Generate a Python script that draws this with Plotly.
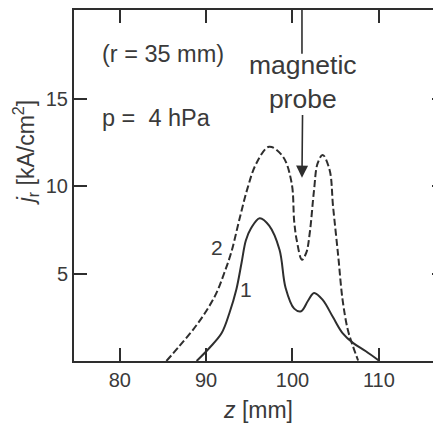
import plotly.graph_objects as go

# Curve 1 (solid)
z1 = [88.9, 90.4, 91.8, 92.7, 93.5, 94.1, 94.6, 95.2, 96.2, 97.3, 98.5, 99.2,
      100.2, 101.0, 101.8, 102.5, 103.5, 104.7, 105.8, 107.0, 108.5, 110.0]
j1 = [0.0, 0.76, 1.6, 2.75, 4.09, 5.61, 6.9, 7.6, 8.18, 7.75, 6.37, 4.2,
      3.0, 2.85, 3.45, 3.9, 3.5, 2.5, 1.6, 1.04, 0.56, 0.03]

# Curve 2 (dashed)
z2 = [85.4, 86.9, 88.5, 90.0, 91.2, 92.1, 92.9, 93.9, 94.8, 95.8, 97.3, 98.9, 99.9,
      100.2, 100.5, 101.1, 101.6, 102.0, 102.5, 102.9, 103.5, 104.3, 104.7, 105.3,
      105.8, 106.4, 107.0, 107.6]
j2 = [0.0, 0.85, 1.8, 2.85, 3.9, 5.04, 6.2, 8.2, 9.9, 11.3, 12.27, 11.7, 10.2,
      8.0, 6.9, 5.8, 6.2, 7.33, 9.8, 11.3, 11.8, 10.94, 8.85, 6.0,
      3.51, 1.8, 0.85, 0.03]

x_ticks = [80, 90, 100, 110]
y_ticks = [5, 10, 15]

INK = "#2e2e2e"
TXT = "#3a3a3a"
FONT = "Liberation Sans, Arial, sans-serif"

fig = go.Figure()
fig.add_trace(go.Scatter(x=z2, y=j2, mode="lines",
                         line=dict(color=INK, width=2, dash="7px,3px", shape="spline", smoothing=1.0),
                         showlegend=False, hoverinfo="skip"))
fig.add_trace(go.Scatter(x=z1, y=j1, mode="lines",
                         line=dict(color=INK, width=2, shape="spline", smoothing=1.0),
                         showlegend=False, hoverinfo="skip"))
# invisible trace to activate the right-hand tick axis
fig.add_trace(go.Scatter(x=z1, y=j1, yaxis="y2", mode="lines", line=dict(width=0), opacity=0,
                         showlegend=False, hoverinfo="skip"))

# page has an 8px body margin, so the figure is sized/offset to compensate
fig.update_layout(
    width=433, height=417,
    margin=dict(l=66, r=0, t=2, b=64),
    paper_bgcolor="white", plot_bgcolor="white",
    font=dict(family=FONT, color=TXT, size=19),
    xaxis=dict(range=[74.7, 117.2], tickvals=x_ticks, ticks="inside", ticklen=13, tickwidth=2,
               tickcolor=INK, showline=True, linecolor=INK, linewidth=2, mirror="ticks",
               showgrid=False, zeroline=False, tickfont=dict(size=20, color=TXT)),
    yaxis=dict(range=[0, 20.1], tickvals=y_ticks, ticks="inside", ticklen=13, tickwidth=2,
               tickcolor=INK, showline=True, linecolor=INK, linewidth=2,
               showgrid=False, zeroline=False, tickfont=dict(size=20, color=TXT)),
    yaxis2=dict(range=[0, 20.1], overlaying="y", side="right", tickvals=y_ticks, ticks="inside",
                ticklen=9, tickwidth=2, tickcolor=INK, showline=False, showticklabels=False,
                showgrid=False, zeroline=False),
)

fig.add_annotation(x=-0.133, y=0.595, xref="paper", yref="paper", textangle=-90,
                   text="<i>j</i><sub>r</sub> [kA/cm<sup>2</sup>]", showarrow=False,
                   font=dict(size=23, color=TXT), xanchor="center", yanchor="middle")
fig.add_annotation(x=0.501, y=-0.14, xref="paper", yref="paper",
                   text="<i>z</i> [mm]", showarrow=False,
                   font=dict(size=23, color=TXT), xanchor="center", yanchor="middle")

fig.add_annotation(x=77.7, y=17.6, text="(r = 35 mm)", showarrow=False, xanchor="left",
                   yanchor="middle", font=dict(size=23.5, color=TXT))
fig.add_annotation(x=77.7, y=13.9, text="p =\u00a0 4 hPa", showarrow=False, xanchor="left",
                   yanchor="middle", font=dict(size=23.5, color=TXT))
fig.add_annotation(x=91.3, y=6.5, text="2", showarrow=False, font=dict(size=21, color=TXT))
fig.add_annotation(x=94.6, y=4.1, text="1", showarrow=False, font=dict(size=21, color=TXT))

fig.add_annotation(x=101.1, y=10.5, ax=101.2, ay=16.0, axref="x", ayref="y",
                   text="magnetic<br>probe", showarrow=True, arrowhead=2, arrowsize=1.5,
                   arrowwidth=1.6, arrowcolor=INK, font=dict(size=26.5, color=TXT), standoff=0)
fig.add_shape(type="line", x0=101.1, x1=101.1, y0=20.1, y1=17.6, xref="x", yref="y",
              line=dict(color=INK, width=1.6))

fig.write_html("out.html")
